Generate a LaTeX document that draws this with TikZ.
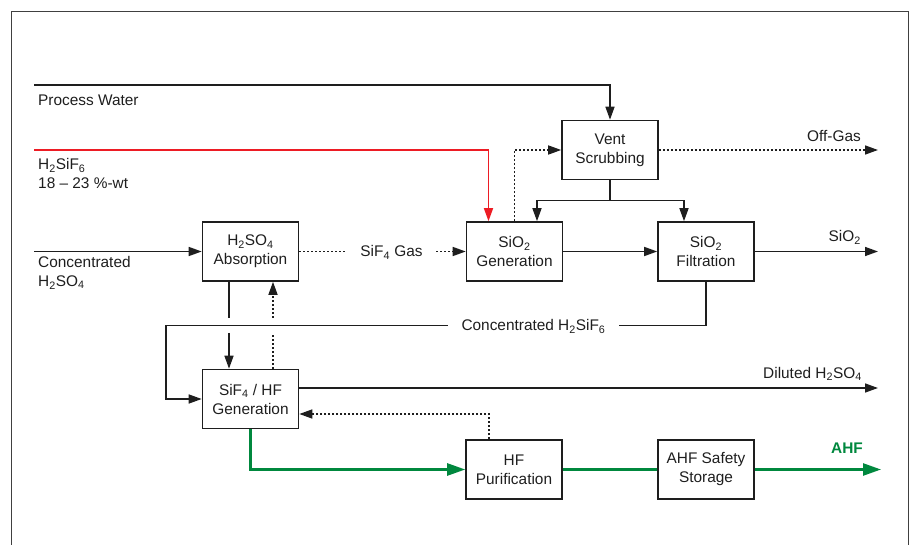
\documentclass[tikz,border=0pt]{standalone}
\usepackage{fontspec}
\setmainfont{Liberation Sans}
\usetikzlibrary{arrows.meta}
\definecolor{fgreen}{RGB}{0,136,62}
\definecolor{fred}{RGB}{237,28,36}
\definecolor{ink}{RGB}{30,30,30}
\begin{document}
\begin{tikzpicture}[x=1pt,y=-1pt,font=\fontsize{15.4}{19}\selectfont,
  box/.style={draw=ink,line width=1.6pt,minimum width=96pt,minimum height=59pt,inner sep=0pt,align=center,text=ink},
  lbl/.style={inner sep=0pt,text=ink},
  gaplbl/.style={inner ysep=0pt,inner xsep=13.5pt,text=ink,text height=11pt,text depth=0pt},
  ln/.style={draw=ink,line width=1.5pt},
  arr/.style={-{Triangle[length=13pt,width=9pt]}},
  dots/.style={dash pattern=on 2pt off 2pt},
  rd/.style={draw=fred,line width=1.5pt},
  gr/.style={draw=fgreen,line width=2.5pt},
  garr/.style={-{Triangle[length=18pt,width=12pt]}}]
\useasboundingbox (0,0) rectangle (916,545);
\draw[draw=black!75,line width=1pt] (11,545) -- (11,12) -- (908,12) -- (908,545);
% boxes
\node[box] (abs) at (250.5,251.5) {H\textsubscript{2}SO\textsubscript{4}\\Absorption};
\node[box] (gen) at (514.5,251.5) {SiO\textsubscript{2}\\Generation};
\node[box] (vent) at (610,150) {Vent\\Scrubbing};
\node[box] (filt) at (706,251.5) {SiO\textsubscript{2}\\Filtration};
\node[box] (hfgen) at (250.5,399) {SiF\textsubscript{4} / HF\\Generation};
\node[box] (pur) at (514,469.5) {HF\\Purification};
\node[box] (sto) at (706,469.5) {AHF Safety\\Storage};
% labels
\node[lbl,anchor=base west] (pwl) at (38,106) {Process Water};
\node[lbl,anchor=base west] (hl1) at (38,170) {H\textsubscript{2}SiF\textsubscript{6}};
\node[lbl,anchor=base west] (hl2) at (38,189) {18 – 23 \%-wt};
\node[lbl,anchor=base west] (cl1) at (38,268) {Concentrated};
\node[lbl,anchor=base west] (cl2) at (38,286.5) {H\textsubscript{2}SO\textsubscript{4}};
\node[lbl,anchor=base east] (ogl) at (861,141.5) {Off-Gas};
\node[lbl,anchor=base east] (sol) at (861,242) {SiO\textsubscript{2}};
\node[lbl,anchor=base east] (dll) at (862,378) {Diluted H\textsubscript{2}SO\textsubscript{4}};
\node[lbl,anchor=base east,text=fgreen,font=\fontsize{15.4}{19}\selectfont\bfseries] (ahfl) at (863,453) {AHF};
\node[gaplbl] (gas) at (391.5,251.5) {SiF\textsubscript{4} Gas};
\node[gaplbl] (ch) at (533.5,325.5) {Concentrated H\textsubscript{2}SiF\textsubscript{6}};
% free ends
\coordinate (pwS) at (34,85);
\coordinate (hS) at (34,150);
\coordinate (cS) at (34,251.5);
\coordinate (og) at (878,150);
\coordinate (so) at (878,251.5);
\coordinate (cl) at (166,0);
\coordinate (g1) at (229,318);
\coordinate (g2) at (229,333);
\coordinate (g3) at (273,333);
\coordinate (g4) at (273,318);
\coordinate (dl) at (878,388);
\coordinate (ahf) at (881,469.5);
% connectors
\draw[ln,arr] (pwS) -| (vent.north);
\draw[rd,arr] (hS) -| ([xshift=-26pt]gen.north);
\draw[ln,arr] (cS) -- (abs.west);
\draw[ln,dots] (abs.east) -- (abs.east -| gas.west);
\draw[ln,dots,arr] (gen.west -| gas.east) -- (gen.west);
\draw[ln,dots,arr] (gen.north) |- (vent.west);
\draw[ln] (vent.south) -- ++(0,20) coordinate (vj);
\draw[ln,arr] (vj) -| ([xshift=22.5pt]gen.north);
\draw[ln,arr] (vj) -| ([xshift=-22pt]filt.north);
\draw[ln,dots,arr] (vent.east) -- (og);
\draw[ln,arr] (gen.east) -- (filt.west);
\draw[ln,arr] (filt.east) -- (so);
\draw[ln] (filt.south) |- (ch.east);
\draw[ln,arr] (ch.west) -- (ch.west -| cl) |- (hfgen.west);
\draw[ln] ([xshift=-21.5pt]abs.south) -- (g1);
\draw[ln,arr] (g2) -- ([xshift=-21.5pt]hfgen.north);
\draw[ln,dots] ([xshift=22.5pt]hfgen.north) -- (g3);
\draw[ln,dots,arr] (g4) -- ([xshift=22.5pt]abs.south);
\draw[ln,arr] ([yshift=11pt]hfgen.east) -- (dl);
\draw[ln,dots,arr] ([xshift=-25pt]pur.north) |- ([yshift=-15pt]hfgen.east);
\draw[gr,garr] (hfgen.south) |- (pur.west);
\draw[gr] (pur.east) -- (sto.west);
\draw[gr,garr] (sto.east) -- (ahf);
\end{tikzpicture}
\end{document}
